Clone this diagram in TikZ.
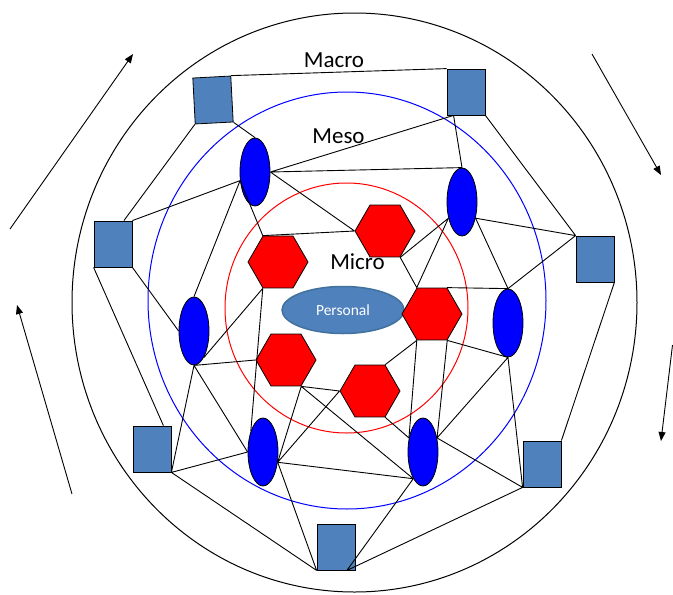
\documentclass[tikz,border=0pt]{standalone}
\usepackage{fontspec}
\setmainfont{Carlito}
\usetikzlibrary{shapes.geometric,arrows.meta}
\definecolor{macroblue}{HTML}{4F81BD}
\definecolor{persedge}{HTML}{41719C}
\tikzset{
  macro/.style = {draw, rectangle, fill=macroblue, minimum width=38pt, minimum height=46pt, inner sep=0pt, line width=0.8pt},
  meso/.style = {draw, ellipse, fill=blue, minimum width=30pt, minimum height=68pt, inner sep=0pt, line width=0.8pt},
  micro/.style = {draw, regular polygon, regular polygon sides=6, fill=red, minimum size=60pt, inner sep=0pt, line width=0.8pt},
  personal/.style = {draw=persedge, ellipse, fill=macroblue, line width=1.5pt, minimum width=122pt, minimum height=47pt, text=white, font=\fontsize{15.5}{18}\selectfont},
  ring label/.style = {font=\fontsize{23}{28}\selectfont, inner sep=0pt},
  link/.style = {line width=0.9pt},
  flow/.style = {-{Triangle[length=9pt,width=7pt]}, line width=0.9pt},
}

\begin{document}
\begin{tikzpicture}[x=1pt, y=-1pt]
\useasboundingbox (0,0) rectangle (673,595);

% rings
\draw[line width=1pt] (354.5,302.5) ellipse [x radius=282.5pt, y radius=289.5pt];
\draw[blue, line width=1pt] (347,300.5) ellipse [x radius=199pt, y radius=208.5pt];
\draw[red, line width=1pt] (346.5,308) ellipse [x radius=121.5pt, y radius=125pt];

\node[ring label, anchor=base] (macrolbl) at (334,67) {Macro};
\node[ring label, anchor=base] (mesolbl) at (338.5,143) {Meso};
\node[ring label, anchor=base] (microlbl) at (357.5,269) {Micro};

\node[personal] (pers) at (343,310) {Personal};

% macro level
\node[macro, rotate=3] (sq1) at (213,100) {};
\node[macro] (sq2) at (466,92) {};
\node[macro] (sq3) at (113,244) {};
\node[macro] (sq4) at (595,259) {};
\node[macro] (sq5) at (152,449) {};
\node[macro] (sq6) at (542,464) {};
\node[macro] (sq7) at (336,547) {};

% meso level
\node[meso] (el1) at (255,172) {};
\node[meso] (el2) at (462,202) {};
\node[meso] (el3) at (194,331) {};
\node[meso] (el4) at (508,323) {};
\node[meso] (el5) at (263,452) {};
\node[meso] (el6) at (423,452) {};

% micro level
\node[micro] (hx1) at (278,262) {};
\node[micro] (hx2) at (385,231) {};
\node[micro] (hx3) at (432,314) {};
\node[micro] (hx4) at (286,360) {};
\node[micro] (hx5) at (370,391) {};

\draw[link] (sq1.north east) -- (sq2.north west)
  (sq1.south west) -- (sq3.65)
  (sq1.south east) -- (el1.north)
  (el1.east) -- (sq2.242)
  (el1.east) -- (el2.north)
  (el1.east) -- (hx2.west)
  (el1.210) -- (hx1.120)
  (sq3.north east) -- (el1.210)
  (el1.210) -- (el3.north)
  (hx1.120) -- (hx2.west)
  (sq3.south west) -- (sq5.64)
  (sq3.south east) -- (el3.west)
  (sq2.242) -- (el2.north)
  (sq2.south east) -- (sq4.north west)
  (el2.-50) -- (sq4.north west)
  (el2.-50) -- (el4.north)
  (sq4.north west) -- (el4.north)
  (el2.-130) -- (hx2.-60)
  (el2.-130) -- (hx3.120)
  (hx2.-60) -- (hx3.120)
  (sq4.south east) -- (sq6.north east)
  (hx3.60) -- (el4.north)
  (hx3.-60) -- (el4.south)
  (el4.south) -- (el6.45)
  (el4.south) -- (sq6.south west)
  (el6.45) -- (sq6.south west)
  (sq7.-65) -- (sq6.south west)
  (sq7.-65) -- (el6.250)
  (hx4.-60) -- (el6.250)
  (el5.-35) -- (el6.250)
  (el5.-35) -- (hx4.-60)
  (el5.-35) -- (hx5.west)
  (hx4.-60) -- (hx5.west)
  (hx3.-120) -- (hx5.60)
  (hx3.-120) -- (el6.135)
  (hx3.-60) -- (el6.45)
  (hx5.-60) -- (el6.135)
  (hx1.-120) -- (el5.120)
  (hx1.-120) -- (el3.-70)
  (el3.south) -- (hx4.west)
  (el3.south) -- (sq5.south east)
  (el3.south) -- (el5.west)
  (sq5.south east) -- (el5.west)
  (sq5.south east) -- (sq7.south west)
  (el5.-35) -- (sq7.south west);

% direction of flow round the rings
\draw[flow] (10,229) -- (133,54);
\draw[flow] (592,54) -- (661,175);
\draw[flow] (672.5,345) -- (661,441);
\draw[flow] (72,494) -- (17,305);

\end{tikzpicture}
\end{document}
